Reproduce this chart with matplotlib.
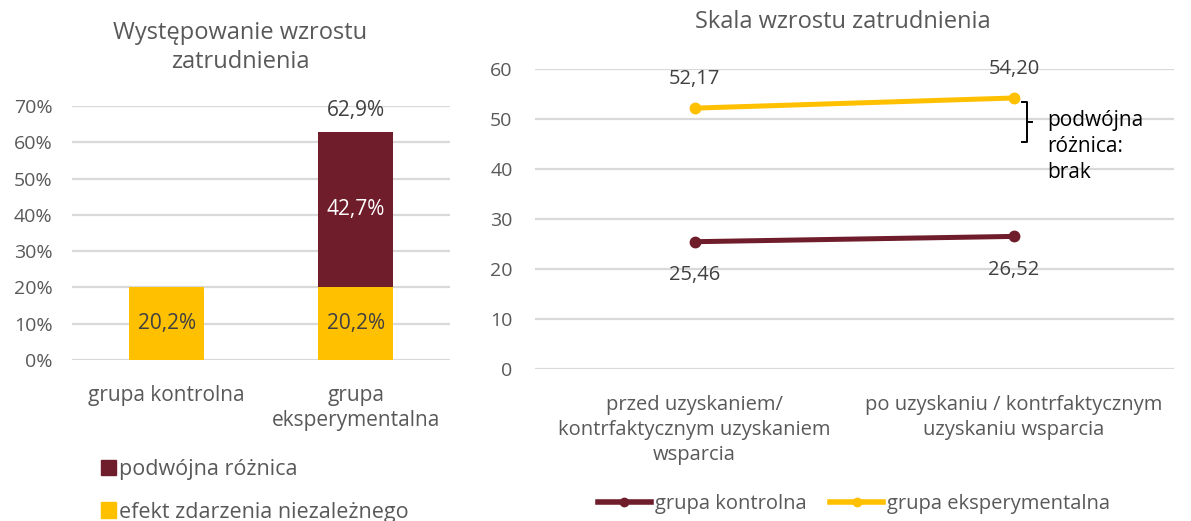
import numpy as np
import matplotlib
matplotlib.use("Agg")
import matplotlib.pyplot as plt
from matplotlib.patches import Patch
from matplotlib.lines import Line2D

plt.rcParams["font.family"] = ["Open Sans", "DejaVu Sans"]

# ---------------------------------------------------------------------------
# Data
# ---------------------------------------------------------------------------
bar_groups   = ["grupa kontrolna", "grupa\neksperymentalna"]
bar_indep    = [0.202, 0.202]      # efekt zdarzenia niezależnego
bar_double   = [0.0, 0.427]        # podwójna różnica
bar_ticks    = [0.0, 0.1, 0.2, 0.3, 0.4, 0.5, 0.6, 0.7]

line_periods = ["przed uzyskaniem/\nkontrfaktycznym uzyskaniem\nwsparcia",
                "po uzyskaniu / kontrfaktycznym\nuzyskaniu wsparcia"]
line_control = [25.46, 26.52]
line_exper   = [52.17, 54.20]
line_ticks   = [0, 10, 20, 30, 40, 50, 60]

MAROON = "#6F1C2B"
YELLOW = "#FFC000"
GREY   = "#595959"
DARK   = "#404040"
GRID   = "#D9D9D9"


def pl(v, nd):
    return f"{v:.{nd}f}".replace(".", ",")


fig = plt.figure(figsize=(11.91, 5.21), dpi=100)

# ---------------------------------------------------------------------------
# Left: stacked bars
# ---------------------------------------------------------------------------
ax1 = fig.add_axes([0.0605, 0.309, 0.3175, 0.4875])
x = np.arange(len(bar_groups))
ax1.bar(x, bar_indep, width=0.4, color=YELLOW, zorder=3)
ax1.bar(x[1:], bar_double[1:], bottom=bar_indep[1:], width=0.4, color=MAROON, zorder=3)

for i in range(len(x)):
    ax1.text(x[i], bar_indep[i] / 2, pl(bar_indep[i] * 100, 1) + "%",
             ha="center", va="center", color=DARK, fontsize=15, zorder=4)
ax1.text(x[1], bar_indep[1] + bar_double[1] / 2, pl(bar_double[1] * 100, 1) + "%",
         ha="center", va="center", color="white", fontsize=15, zorder=4)
total = bar_indep[1] + bar_double[1]
ax1.annotate(pl(total * 100, 1) + "%", (x[1], total), xytext=(0, 15),
             textcoords="offset points", ha="center", va="center",
             color=DARK, fontsize=15)

ax1.set_xlim(-0.5, 1.5)
ax1.set_ylim(0, 0.7)
ax1.set_yticks(bar_ticks)
ax1.set_yticklabels([f"{int(round(t * 100))}%" for t in bar_ticks])
ax1.set_xticks(x)
ax1.set_xticklabels(bar_groups, linespacing=1.25)
ax1.tick_params(axis="y", length=0, pad=14, labelsize=14, labelcolor=GREY)
ax1.tick_params(axis="x", length=0, pad=18, labelsize=15, labelcolor=GREY)
ax1.grid(axis="y", color=GRID, lw=1.6, zorder=0)
for s in ax1.spines.values():
    s.set_visible(False)
ax1.set_axisbelow(True)

fig.text(0.2015, 0.909, "Występowanie wzrostu\nzatrudnienia", ha="center", va="center",
         fontsize=17, color=GREY, linespacing=1.3)

fig.legend(handles=[Patch(color=MAROON), Patch(color=YELLOW)],
           labels=["podwójna różnica", "efekt zdarzenia niezależnego"],
           loc="upper left", bbox_to_anchor=(0.0845, 0.119),
           frameon=False, fontsize=15.5, labelcolor=GREY,
           handlelength=0.7, handleheight=0.7, handletextpad=0.15,
           labelspacing=1.0, borderaxespad=0, borderpad=0)

# ---------------------------------------------------------------------------
# Right: lines
# ---------------------------------------------------------------------------
ax2 = fig.add_axes([0.449, 0.2917, 0.5365, 0.5759])
xp = np.arange(len(line_periods))
ax2.plot(xp, line_control, color=MAROON, lw=3.6, marker="o", ms=7.5,
         solid_capstyle="round", label="grupa kontrolna", zorder=3)
ax2.plot(xp, line_exper, color=YELLOW, lw=3.6, marker="o", ms=7.5,
         solid_capstyle="round", label="grupa eksperymentalna", zorder=3)

for i in range(len(xp)):
    ax2.annotate(pl(line_exper[i], 2), (xp[i], line_exper[i]), xytext=(0, 21),
                 textcoords="offset points", ha="center", va="center",
                 color=DARK, fontsize=14.5)
    ax2.annotate(pl(line_control[i], 2), (xp[i], line_control[i]), xytext=(0, -24),
                 textcoords="offset points", ha="center", va="center",
                 color=DARK, fontsize=14.5)

ax2.set_xlim(-0.5, 1.5)
ax2.set_ylim(0, 60)
ax2.set_yticks(line_ticks)
ax2.set_xticks(xp)
ax2.set_xticklabels(line_periods, linespacing=1.33)
ax2.tick_params(axis="y", length=0, pad=16, labelsize=14, labelcolor=GREY)
ax2.tick_params(axis="x", length=0, pad=19, labelsize=14.5, labelcolor=GREY)
ax2.grid(axis="y", color=GRID, lw=1.6, zorder=0)
for s in ax2.spines.values():
    s.set_visible(False)
ax2.set_axisbelow(True)

# bracket marking the (absent) double difference
bx = xp[1] + 0.04
top = line_exper[1] - 0.9
bot = top - 8.0
mid = (top + bot) / 2
ax2.plot([bx - 0.015, bx, bx, bx - 0.015], [top, top, bot, bot],
         color="black", lw=1.4, clip_on=False)
ax2.plot([bx, bx + 0.015], [mid, mid], color="black", lw=1.4, clip_on=False)
ax2.text(bx + 0.065, mid - 4.8, "podwójna\nróżnica:\nbrak", ha="left", va="center",
         fontsize=15, color="black", linespacing=1.3)

fig.text(0.708, 0.958, "Skala wzrostu zatrudnienia", ha="center", va="center",
         fontsize=17, color=GREY)

handles = [Line2D([0], [0], color=MAROON, lw=4, marker="o", ms=6),
           Line2D([0], [0], color=YELLOW, lw=4, marker="o", ms=6)]
fig.legend(handles=handles, labels=["grupa kontrolna", "grupa eksperymentalna"],
           loc="center", bbox_to_anchor=(0.717, 0.033), ncol=2, frameon=False,
           fontsize=14.5, labelcolor=GREY, handlelength=2.6, handletextpad=0.2,
           columnspacing=1.2, borderaxespad=0, borderpad=0)

fig.savefig("out.png", dpi=100)
